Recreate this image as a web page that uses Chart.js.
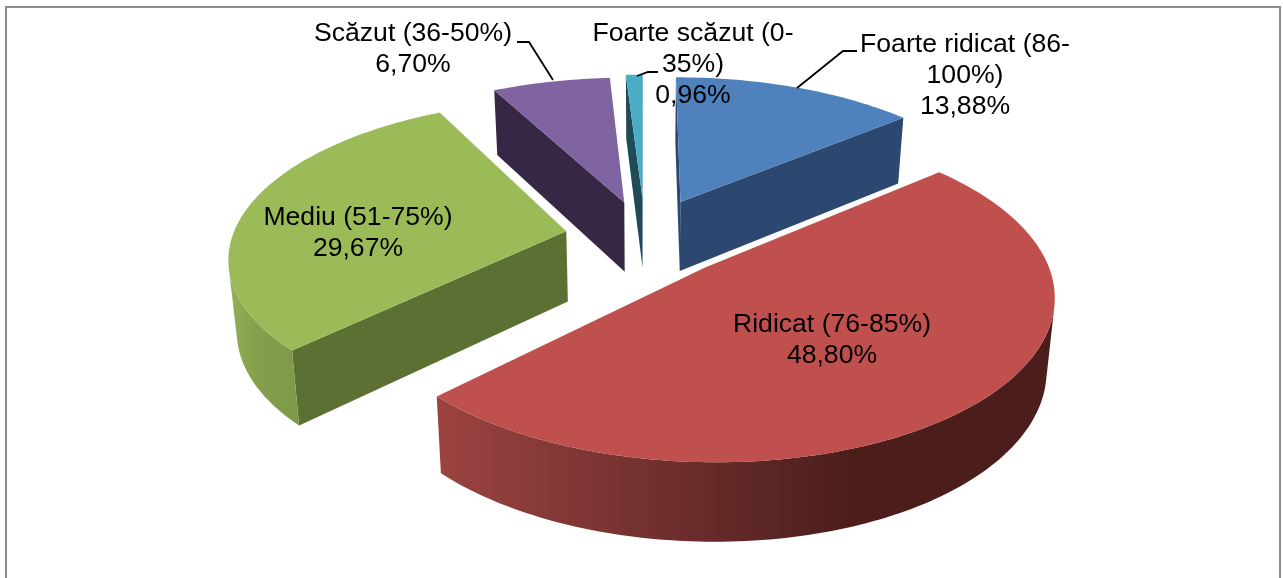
<!DOCTYPE html>
<html><head><meta charset="utf-8">
<script src="https://cdn.jsdelivr.net/npm/chart.js@4"></script>
<style>html,body{margin:0;padding:0;background:#fff;overflow:hidden}canvas{display:block}</style>
</head><body><canvas id="c" width="1283" height="578"></canvas>
<script>
const categories = ["Foarte ridicat (86-100%)","Ridicat (76-85%)","Mediu (51-75%)","Scăzut (36-50%)","Foarte scăzut (0-35%)"];
const shares = [13.88,48.80,29.67,6.70,0.96];
const topColours = ["#4f81bd","#c0504d","#9bbb59","#8064a2","#4bacc6"];
const wallColours = ["#2c4770","#9b4341","#5d7033","#362845","#1f4a58"];
const wrapped = [["Foarte ridicat (86-","100%)"],["Ridicat (76-85%)"],["Mediu (51-75%)"],["Scăzut (36-50%)"],["Foarte scăzut (0-","35%)"]];

const P = {cx:645, cy:237, R:334, S:154, p:0.15, pY:0.155, shrink:0.98};
const explode = [0.26,0.26,0.24,0.24,0.26];
const labelBox = [
  {x:965,y:51.5},{x:832,y:332},{x:358,y:224.5},{x:413,y:41},{x:693,y:41}
];
const leaders = [
  [[857,51],[843,51],[797,88]],
  null,null,
  [[517,42],[529,42],[553,80]],
  [[658,72],[648,72],[637,76]]
];
const rimShades = {
  1:{x0:440,x1:850,stops:[[0,"#9b4341"],[1,"#4b1e1c"]]},
  2:{x0:228,x1:300,stops:[[0,"#94b255"],[0.4,"#849f4d"],[1,"#7e9a49"]]}
};
function top3(u,v){return [P.cx+P.R*u/(1-P.p*v),P.cy+P.S*v/(1-P.pY*v)];}
function lower(pt){return [P.cx+(pt[0]-P.cx)*P.shrink,pt[1]+65+(pt[1]-100)*0.04];}
function area(q){let s=0;for(let i=0;i<q.length;i++){const a=q[i],b=q[(i+1)%q.length];s+=a[0]*b[1]-b[0]*a[1];}return s;}
function poly(ctx,q,fill){ctx.beginPath();q.forEach((p,i)=>i?ctx.lineTo(p[0],p[1]):ctx.moveTo(p[0],p[1]));ctx.closePath();ctx.fillStyle=fill;ctx.fill();}

const pie3d = {
  id:'pie3d',
  beforeDraw(chart){
    const ctx=chart.ctx;ctx.save();ctx.fillStyle="#fff";ctx.fillRect(0,0,1283,578);
    ctx.strokeStyle="#8c8c8c";ctx.lineWidth=2;ctx.strokeRect(6,7,1274,640);ctx.restore();
  },
  beforeDatasetDraw(chart,args){
    const ctx=chart.ctx, arcs=chart.getDatasetMeta(args.index).data;
    const order=[4,3,0,2,1];
    order.forEach(i=>{
      const el=arcs[i];
      const a0=el.startAngle+Math.PI/2, a1=el.endAngle+Math.PI/2, mid=(a0+a1)/2;
      const ax=Math.sin(mid)*explode[i], ay=-Math.cos(mid)*explode[i];
      const at=t=>top3(ax+Math.sin(t),ay-Math.cos(t));
      const apex=top3(ax,ay);
      const n=Math.max(6,Math.ceil((a1-a0)/0.02));
      const rim=[];for(let k=0;k<=n;k++)rim.push(at(a0+(a1-a0)*k/n));
      const s=[apex,rim[0],lower(rim[0]),lower(apex)];
      if(area(s)<0)poly(ctx,s,wallColours[i]);
      const e=[apex,rim[n],lower(rim[n]),lower(apex)];
      if(area(e)>0)poly(ctx,e,wallColours[i]);
      let fill=wallColours[i];
      if(rimShades[i]){const r=rimShades[i];const g=ctx.createLinearGradient(r.x0,0,r.x1,0);r.stops.forEach(st=>g.addColorStop(st[0],st[1]));fill=g;}
      const front=[];
      for(let k=0;k<n;k++){
        if(area([rim[k],rim[k+1],lower(rim[k+1]),lower(rim[k])])<0){
          if(!front.length)front.push(rim[k]);
          front.push(rim[k+1]);
        }
      }
      if(front.length)poly(ctx,front.concat(front.slice().reverse().map(lower)),fill);
      poly(ctx,[apex].concat(rim),el.options.backgroundColor);
    });
    return false;
  },
  afterDraw(chart){
    const ctx=chart.ctx;ctx.save();
    ctx.font='26.6px "Liberation Sans"';ctx.fillStyle="#000";ctx.textAlign="center";ctx.textBaseline="alphabetic";
    shares.forEach((v,i)=>{
      const lines=wrapped[i].concat([v.toFixed(2).replace('.',',')+'%']);
      lines.forEach((t,k)=>ctx.fillText(t,labelBox[i].x,labelBox[i].y+k*31.2));
      if(leaders[i]){ctx.beginPath();leaders[i].forEach((p,k)=>k?ctx.lineTo(p[0],p[1]):ctx.moveTo(p[0],p[1]));ctx.strokeStyle="#000";ctx.lineWidth=1.8;ctx.stroke();}
    });
    ctx.restore();
  }
};
new Chart(document.getElementById('c'),{
  type:'pie',
  data:{labels:categories,datasets:[{data:shares,backgroundColor:topColours,borderWidth:0}]},
  options:{responsive:false,animation:false,plugins:{legend:{display:false},tooltip:{enabled:false}}},
  plugins:[pie3d]
});
</script></body></html>
